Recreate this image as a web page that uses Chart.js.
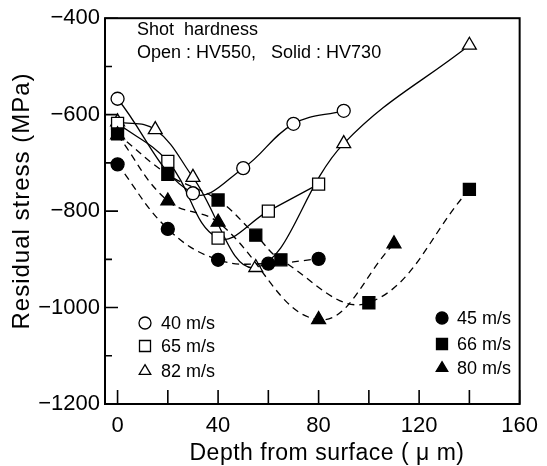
<!DOCTYPE html>
<html>
<head>
<meta charset="utf-8">
<script src="https://cdn.jsdelivr.net/npm/chart.js@4.4.1/dist/chart.umd.min.js"></script>
<style>
  html, body { margin: 0; padding: 0; background: #fff; }
</style>
</head>
<body>
<canvas id="stressChart" width="547" height="466"></canvas>
<script>
// depth (um) and residual stress (MPa) for each shot velocity
const depth40 = [0, 30, 50, 70, 90];
const stress40 = [-567, -763, -711, -619, -592];
const depth65 = [0, 20, 40, 60, 80];
const stress65 = [-618, -697, -856, -800, -744];
const depth82 = [0, 15, 30, 55, 90, 140];
const stress82 = [-615, -631, -730, -917, -660, -456];
const depth45 = [0, 20, 40, 60, 80];
const stress45 = [-703, -837, -901, -909, -899];
const depth66 = [0, 20, 40, 55, 65, 100, 140];
const stress66 = [-640, -724, -777, -850, -901, -990, -755];
const depth80 = [0, 20, 40, 80, 110];
const stress80 = [-642, -779, -823, -1025, -868];

const xTicks = [0, 20, 40, 60, 80, 100, 120, 140, 160];
const yTicks = [-1200, -1100, -1000, -900, -800, -700, -600, -500, -400];

const FONT = "'Liberation Sans', Arial, Helvetica, sans-serif";

const pts = (xs, ys) => xs.map((x, i) => ({ x: x, y: ys[i] }));

function series(label, xs, ys, style, radius, open) {
  return {
    label: label,
    data: pts(xs, ys),
    borderColor: '#000',
    borderWidth: 1.3,
    borderDash: open ? [] : [7, 5],
    tension: 0.4,
    pointStyle: style,
    pointRadius: radius,
    pointHoverRadius: radius,
    pointBorderWidth: 1.3,
    pointBorderColor: '#000',
    pointBackgroundColor: open ? '#fff' : '#000',
    fill: false
  };
}

function marker(ctx, style, x, y, r, open) {
  ctx.beginPath();
  if (style === 'circle') {
    ctx.arc(x, y, r, 0, Math.PI * 2);
  } else if (style === 'rect') {
    ctx.rect(x - r, y - r, 2 * r, 2 * r);
  } else {
    ctx.moveTo(x, y - r * 1.15);
    ctx.lineTo(x + r * 1.05, y + r * 0.6);
    ctx.lineTo(x - r * 1.05, y + r * 0.6);
    ctx.closePath();
  }
  ctx.fillStyle = open ? '#fff' : '#000';
  ctx.fill();
  ctx.lineWidth = 1.3;
  ctx.strokeStyle = '#000';
  ctx.stroke();
}

const decor = {
  id: 'decor',
  afterDraw(chart) {
    const { ctx, chartArea: a, scales: { x, y } } = chart;
    ctx.save();
    // frame
    ctx.strokeStyle = '#000';
    ctx.lineWidth = 2;
    ctx.strokeRect(a.left, a.top, a.right - a.left, a.bottom - a.top);
    // inward tick marks
    ctx.lineWidth = 1.6;
    ctx.beginPath();
    xTicks.forEach(v => {
      const px = x.getPixelForValue(v);
      ctx.moveTo(px, a.bottom);
      ctx.lineTo(px, a.bottom - 14);
    });
    yTicks.forEach(v => {
      const py = y.getPixelForValue(v);
      const len = v % 200 === 0 ? 13 : 7;
      ctx.moveTo(a.left, py);
      ctx.lineTo(a.left + len, py);
    });
    ctx.stroke();

    // axis titles
    ctx.fillStyle = '#000';
    ctx.font = '23px ' + FONT;
    ctx.textAlign = 'center';
    ctx.textBaseline = 'middle';
    ctx.letterSpacing = '0.5px';
    ctx.fillText('Depth from surface ( \u03bc m)', 327, 454);
    ctx.save();
    ctx.font = '24px ' + FONT;
    ctx.letterSpacing = '1px';
    ctx.translate(22, 201);
    ctx.rotate(-Math.PI / 2);
    ctx.fillText('Residual stress (MPa)', 0, 0);
    ctx.restore();
    ctx.letterSpacing = '0px';

    // annotation
    ctx.textAlign = 'left';
    ctx.textBaseline = 'alphabetic';
    ctx.font = '18px ' + FONT;
    ctx.fillText('Shot  hardness', 137, 35);
    ctx.fillText('Open : HV550,   Solid : HV730', 137, 58);

    // legends
    const left = [['circle', '40 m/s', 323], ['rect', '65 m/s', 346], ['triangle', '82 m/s', 371]];
    left.forEach(([s, t, yy]) => {
      marker(ctx, s, 145, yy, s === 'circle' ? 6 : 5.5, true);
      ctx.fillStyle = '#000';
      ctx.fillText(t, 161, yy + 6);
    });
    const right = [['circle', '45 m/s', 318], ['rect', '66 m/s', 344], ['triangle', '80 m/s', 368]];
    right.forEach(([s, t, yy]) => {
      marker(ctx, s, 442, yy, s === 'circle' ? 6 : 5.5, false);
      ctx.fillStyle = '#000';
      ctx.fillText(t, 457, yy + 6);
    });
    ctx.restore();
  }
};

new Chart(document.getElementById('stressChart'), {
  type: 'line',
  data: {
    datasets: [
      series('45 m/s', depth45, stress45, 'circle', 6.5, false),
      series('66 m/s', depth66, stress66, 'rect', 8.5, false),
      series('80 m/s', depth80, stress80, 'triangle', 8, false),
      series('40 m/s', depth40, stress40, 'circle', 6.5, true),
      series('65 m/s', depth65, stress65, 'rect', 8.5, true),
      series('82 m/s', depth82, stress82, 'triangle', 8, true)
    ]
  },
  options: {
    responsive: false,
    animation: false,
    layout: { padding: { top: 16, right: 15, left: 0, bottom: 0 } },
    plugins: {
      legend: { display: false },
      tooltip: { enabled: false }
    },
    scales: {
      x: {
        type: 'linear',
        min: -5,
        max: 160,
        afterBuildTicks: s => { s.ticks = xTicks.map(v => ({ value: v })); },
        afterFit: s => { s.height = 62; },
        grid: { display: false, tickLength: 0 },
        border: { display: false },
        ticks: {
          autoSkip: false,
          maxRotation: 0,
          padding: 9,
          color: '#000',
          font: { family: FONT, size: 22 },
          callback: v => (v % 40 === 0 ? String(v) : '')
        }
      },
      y: {
        type: 'linear',
        min: -1200,
        max: -400,
        afterBuildTicks: s => { s.ticks = yTicks.map(v => ({ value: v })); },
        afterFit: s => { s.width = 105; },
        grid: { display: false, tickLength: 0 },
        border: { display: false },
        ticks: {
          autoSkip: false,
          padding: 5,
          color: '#000',
          font: { family: FONT, size: 22 },
          callback: v => (v % 200 === 0 ? '\u2212' + Math.abs(v) : '')
        }
      }
    }
  },
  plugins: [decor]
});
</script>
</body>
</html>
